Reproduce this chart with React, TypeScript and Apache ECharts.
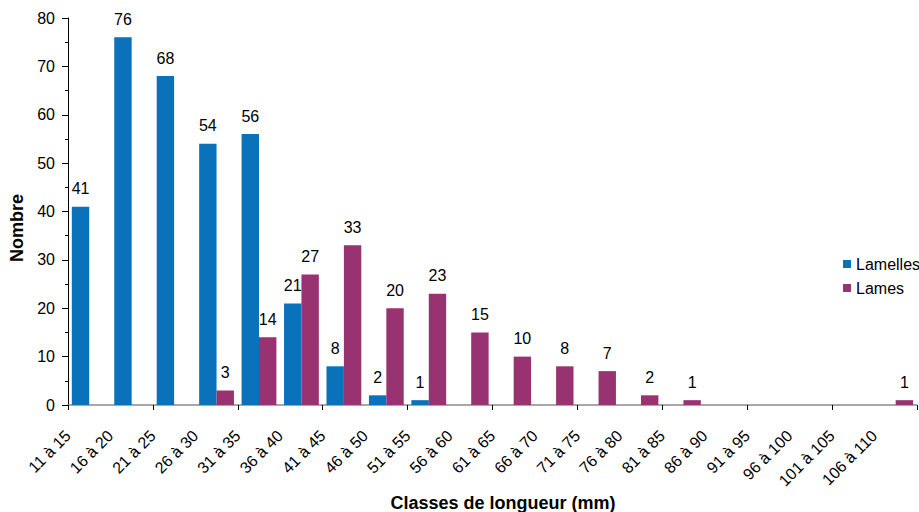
import React, { useEffect, useRef } from "react";
import * as echarts from "echarts";

const categories = [
  "11 à 15", "16 à 20", "21 à 25", "26 à 30", "31 à 35", "36 à 40", "41 à 45",
  "46 à 50", "51 à 55", "56 à 60", "61 à 65", "66 à 70", "71 à 75", "76 à 80",
  "81 à 85", "86 à 90", "91 à 95", "96 à 100", "101 à 105", "106 à 110",
];
const lamelles = [41, 76, 68, 54, 56, 21, 8, 2, 1, 0, 0, 0, 0, 0, 0, 0, 0, 0, 0, 0];
const lames = [0, 0, 0, 3, 14, 27, 33, 20, 23, 15, 10, 8, 7, 2, 1, 0, 0, 0, 0, 1];
const seriesNames = ["Lamelles", "Lames"];
const colors = ["#0A71BB", "#983270"];
const yTitle = "Nombre";
const xTitle = "Classes de longueur (mm)";

const FONT = "'Liberation Sans', Arial, Helvetica, sans-serif";

export default function App() {
  const ref = useRef<HTMLDivElement>(null);
  useEffect(() => {
    document.body.style.margin = "0";
    if (!ref.current) return;
    const chart = echarts.init(ref.current, null, { renderer: "svg" });
    const grid = { left: 68, right: -4, top: 18, bottom: 107 };
    const labelCfg = {
      show: true,
      position: "top",
      distance: 10,
      fontSize: 16,
      fontFamily: FONT,
      color: "#000",
      formatter: (p: any) => (p.value ? String(p.value) : ""),
    };
    chart.setOption({
      animation: false,
      textStyle: { fontFamily: FONT },
      grid,
      legend: {
        orient: "vertical",
        left: 838,
        top: 251,
        itemWidth: 8,
        itemHeight: 8,
        itemGap: 8,
        icon: "rect",
        textStyle: { fontSize: 16, fontFamily: FONT, color: "#000", lineHeight: 16 },
        data: seriesNames,
      },
      xAxis: [
        {
          type: "category",
          data: categories,
          axisLine: { lineStyle: { color: "#8a8a8a", width: 1.5 } },
          axisTick: { show: true, length: 5, lineStyle: { color: "#000" } },
          axisLabel: { show: false },
        },
        {
          type: "value",
          min: 0,
          max: 20,
          interval: 1,
          position: "bottom",
          axisLine: { show: false },
          axisTick: { show: false },
          splitLine: { show: false },
          axisLabel: {
            rotate: 45,
            margin: 28,
            fontSize: 16,
            fontFamily: FONT,
            color: "#000",
            formatter: (v: number) => categories[v] ?? "",
          },
        },
      ],
      yAxis: {
        type: "value",
        min: 0,
        max: 80,
        interval: 10,
        axisLine: { show: true, lineStyle: { color: "#000" } },
        axisTick: { show: true, length: 6, lineStyle: { color: "#000" } },
        minorTick: { show: true, splitNumber: 2, length: 3, lineStyle: { color: "#000" } },
        splitLine: { show: false },
        axisLabel: { fontSize: 16, fontFamily: FONT, color: "#000", margin: 13 },
      },
      graphic: [
        {
          type: "text",
          x: 17,
          y: 228,
          rotation: Math.PI / 2,
          style: {
            text: yTitle,
            fontSize: 18,
            fontWeight: "bold",
            fontFamily: FONT,
            fill: "#000",
            align: "center",
            verticalAlign: "middle",
          },
        },
        {
          type: "text",
          x: 503,
          y: 503,
          style: {
            text: xTitle,
            fontSize: 18,
            fontWeight: "bold",
            fontFamily: FONT,
            fill: "#000",
            align: "center",
            verticalAlign: "middle",
          },
        },
      ],
      series: [
        {
          name: seriesNames[0],
          type: "bar",
          xAxisIndex: 0,
          data: lamelles,
          itemStyle: { color: colors[0] },
          barGap: "0%",
          barCategoryGap: "18%",
          label: labelCfg,
        },
        {
          name: seriesNames[1],
          type: "bar",
          xAxisIndex: 0,
          data: lames,
          itemStyle: { color: colors[1] },
          barGap: "0%",
          barCategoryGap: "18%",
          label: labelCfg,
        },
      ],
    });
    return () => chart.dispose();
  }, []);
  return <div ref={ref} style={{ width: 919, height: 512 }} />;
}
